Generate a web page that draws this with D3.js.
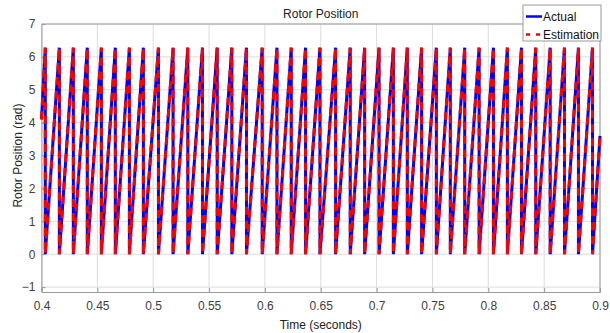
<!DOCTYPE html>
<html>
<head>
<meta charset="utf-8">
<script src="https://cdn.jsdelivr.net/npm/d3@7"></script>
<style>
  body { margin: 0; background: #fff; }
  svg { font-family: "Liberation Sans", Arial, sans-serif; }
</style>
</head>
<body>
<div id="chart"></div>
<script>
// wrap-around instants (s): value drops 2*pi -> 0
var dropTimes = [0.4034, 0.4160, 0.4285, 0.4410, 0.4536, 0.4661, 0.4787, 0.4912,
  0.5047, 0.5178, 0.5310, 0.5441, 0.5573, 0.5704, 0.5835, 0.5976, 0.6108, 0.6236,
  0.6364, 0.6493, 0.6633, 0.6764, 0.6893, 0.7022, 0.7150, 0.7275, 0.7403, 0.7535,
  0.7660, 0.7789, 0.7918, 0.8046, 0.8171, 0.8297, 0.8425, 0.8554, 0.8682, 0.8807, 0.8933];
var peakValue = 6.28;
var startPoint = [0.4, 4.1];
var endPoint = [0.9, 3.6];
var xTicks = [0.4, 0.45, 0.5, 0.55, 0.6, 0.65, 0.7, 0.75, 0.8, 0.85, 0.9];
var yTicks = [-1, 0, 1, 2, 3, 4, 5, 6, 7];
var seriesNames = ["Actual", "Estimation"];

function buildSeries() {
  var pts = [startPoint];
  dropTimes.forEach(function (t) {
    pts.push([t, peakValue]);
    pts.push([t, 0]);
  });
  pts.push(endPoint);
  return pts;
}
var actual = buildSeries();
var estimation = buildSeries();

var W = 610, H = 333;
var margin = {top: 24, right: 10, bottom: 41, left: 41.5};
var width = W - margin.left - margin.right,
    height = H - margin.top - margin.bottom;

var svg = d3.select("#chart").append("svg")
  .attr("width", W).attr("height", H);
var g = svg.append("g")
  .attr("transform", "translate(" + margin.left + "," + margin.top + ")");

var x = d3.scaleLinear().domain([0.4, 0.9]).range([0, width]);
var y = d3.scaleLinear().domain([-1.15, 7]).range([height, 0]);

// grid
g.append("g").selectAll("line").data(xTicks).enter().append("line")
  .attr("x1", d => x(d)).attr("x2", d => x(d))
  .attr("y1", 0).attr("y2", height)
  .attr("stroke", "#dcdcdc").attr("stroke-width", 1);
g.append("g").selectAll("line").data(yTicks).enter().append("line")
  .attr("x1", 0).attr("x2", width)
  .attr("y1", d => y(d)).attr("y2", d => y(d))
  .attr("stroke", "#dcdcdc").attr("stroke-width", 1);

// axes
var xAxis = g.append("g")
  .attr("transform", "translate(0," + height + ")")
  .call(d3.axisBottom(x).tickValues(xTicks).tickSize(-4).tickPadding(9)
    .tickFormat(d3.format("")));
var yAxis = g.append("g")
  .call(d3.axisLeft(y).tickValues(yTicks).tickSize(-4).tickPadding(6));
[xAxis, yAxis].forEach(function (a) {
  a.select(".domain").attr("stroke", "#9a9a9a");
  a.selectAll(".tick line").attr("stroke", "#9a9a9a");
  a.selectAll(".tick text").attr("fill", "#404040").style("font-size", "12px")
    .style("font-family", "'Liberation Sans', Arial, sans-serif");
});
// box top / right
g.append("line").attr("x1", 0).attr("x2", width).attr("y1", 0).attr("y2", 0)
  .attr("stroke", "#9a9a9a");
g.append("line").attr("x1", width).attr("x2", width).attr("y1", 0).attr("y2", height)
  .attr("stroke", "#9a9a9a");

var line = d3.line().x(d => x(d[0])).y(d => y(d[1]));

g.append("path").datum(actual)
  .attr("d", line).attr("fill", "none")
  .attr("stroke", "#0000ff").attr("stroke-width", 3);
g.append("path").datum(estimation)
  .attr("d", line).attr("fill", "none")
  .attr("stroke", "#ff0000").attr("stroke-width", 3)
  .attr("stroke-dasharray", "8,6");

// title & labels
svg.append("text").attr("x", margin.left + width / 2).attr("y", 18)
  .attr("text-anchor", "middle").style("font-size", "12px").attr("fill", "#222")
  .text("Rotor Position");
svg.append("text").attr("x", margin.left + width / 2).attr("y", 329)
  .attr("text-anchor", "middle").style("font-size", "12px").attr("fill", "#222")
  .text("Time (seconds)");
svg.append("text")
  .attr("transform", "translate(22," + (margin.top + y(3)) + ") rotate(-90)")
  .attr("text-anchor", "middle").style("font-size", "12px").attr("fill", "#222")
  .text("Rotor Position (rad)");

// legend
var lg = svg.append("g").attr("transform", "translate(523,5)");
lg.append("rect").attr("width", 78).attr("height", 36)
  .attr("fill", "#fff").attr("stroke", "#9a9a9a");
var colors = ["#0000ff", "#ff0000"];
seriesNames.forEach(function (name, i) {
  var yy = 11.5 + i * 18;
  lg.append("line").attr("x1", 3).attr("x2", 19).attr("y1", yy).attr("y2", yy)
    .attr("stroke", colors[i]).attr("stroke-width", 2.5)
    .attr("stroke-dasharray", i === 1 ? "4,6" : null);
  lg.append("text").attr("x", 20).attr("y", yy + 4.5)
    .style("font-size", "12px").attr("fill", "#111").text(name);
});
</script>
</body>
</html>
